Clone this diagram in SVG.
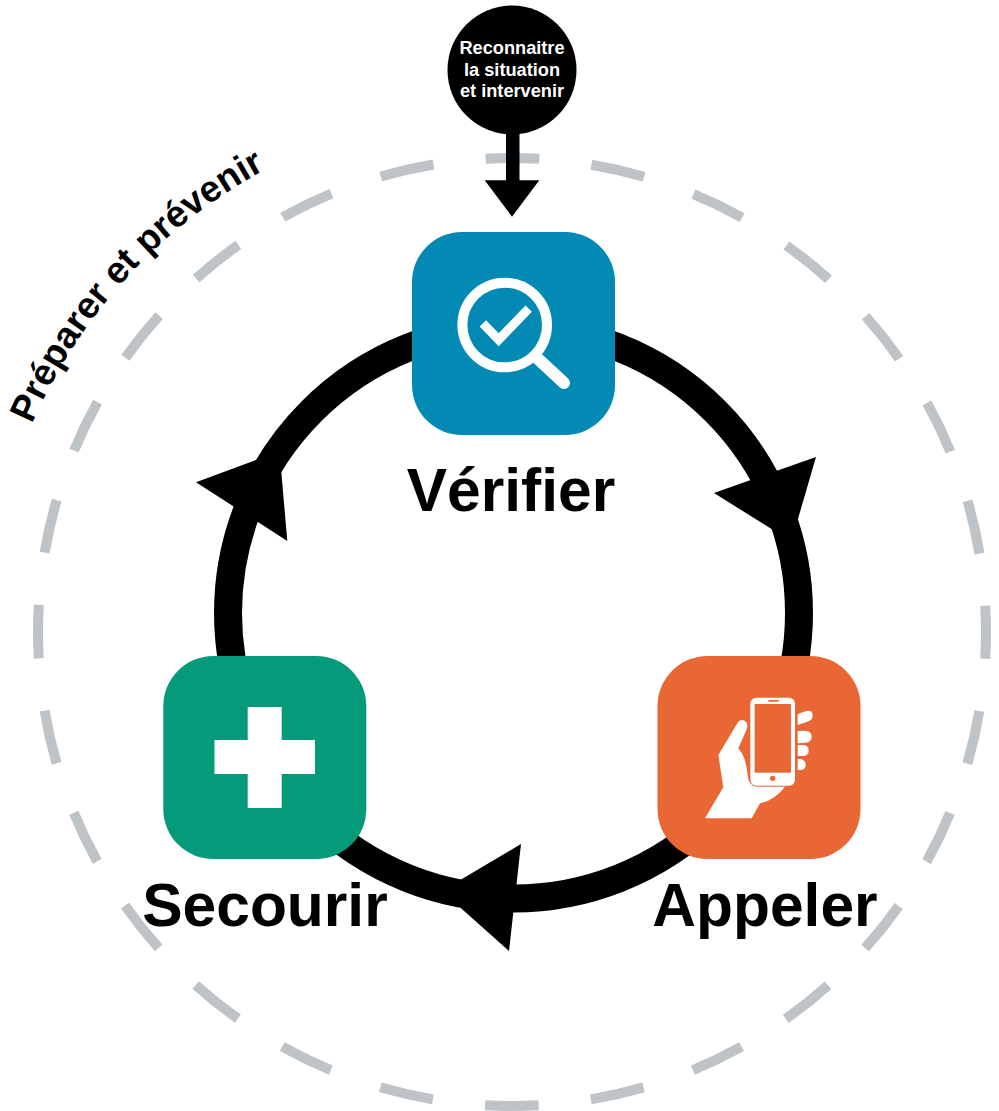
<svg xmlns="http://www.w3.org/2000/svg" width="999" height="1111" viewBox="0 0 999 1111">
<style>
text{font-family:"Liberation Sans",Arial,sans-serif;font-weight:700;fill:#000}
.lbl{font-size:60.5px;text-anchor:middle}
.sm{font-size:18.2px;text-anchor:middle;fill:#fff}
.box{stroke:none}
.w{fill:#fff}
</style>
<defs>
<path id="arcp" d="M32 424A525 525 0 0 1 512 107"/>
</defs>
<rect width="999" height="1111" fill="#fff"/>
<g id="connectors">
<circle id="outer-cycle" cx="512" cy="632" r="474" fill="none" stroke="#bdc3c7" stroke-width="10" stroke-dasharray="54 52.37" stroke-dashoffset="27"/>
<circle id="ring" cx="513.5" cy="613" r="285.5" fill="none" stroke="#000" stroke-width="28"/>
<polygon points="816,457 714,493 791.4,541.5"/>
<polygon points="521,844 509,951 441.7,891"/>
<polygon points="196,482.3 287.3,541 279.5,451.3"/>
<rect x="506" y="130" width="13.500" height="52"/>
<polygon points="484.700,180.300 539.300,180.300 512,216.700"/>
</g>
<g id="start">
<circle cx="512" cy="70" r="64.500"/>
<text class="sm" x="512" y="54">Reconnaitre</text>
<text class="sm" x="512" y="75.500">la situation</text>
<text class="sm" x="512" y="97">et intervenir</text>
</g>
<g id="verifier">
<rect class="box" x="412" y="232" width="203" height="203" rx="50" fill="#028ab5"/>
<circle cx="504.700" cy="325" r="42.300" fill="none" stroke="#fff" stroke-width="10"/>
<line x1="535" y1="356" x2="564" y2="383" stroke="#fff" stroke-width="12" stroke-linecap="round"/>
<polyline points="482.800,323.300 498.700,339.700 528.700,308.700" fill="none" stroke="#fff" stroke-width="9"/>
<text class="lbl" x="511" y="511">Vérifier</text>
</g>
<g id="appeler">
<rect class="box" x="657.500" y="656" width="203" height="203" rx="50" fill="#e96735"/>
<g transform="translate(660 660) scale(.33333)">
<rect x="271" y="113" width="134" height="264" rx="18" class="w"/>
<rect x="284" y="132" width="109" height="206" fill="#e96735"/>
<rect x="325" y="120" width="32" height="5" rx="2" fill="#e96735"/>
<circle cx="338" cy="355" r="8" fill="#e96735"/>
<path class="w" d="M413 163L436 154Q458 148 458 168Q458 180 442 185L413 195Z"/>
<path class="w" d="M413 213L435 212Q455 213 455 230Q455 247 435 248L413 250Z"/>
<path class="w" d="M413 255L430 255Q446 256 446 272Q446 287 430 288L413 288Z"/>
<path class="w" d="M413 297L422 297Q437 300 437 315Q437 328 422 330L413 330Z"/>
<path class="w" d="M135 475L190 382L175 285L232 190Q240 177 251 181Q267 189 260 208L235 265Q258 290 263 345Q265 378 290 380L375 380Q345 420 300 430L275 475Z"/>
</g>
<text class="lbl" x="765" y="926">Appeler</text>
</g>
<g id="secourir">
<rect class="box" x="163.300" y="656" width="203" height="203" rx="50" fill="#059a79"/>
<path class="w" d="M247.700 707H281.700V740H315V774H281.700V808H247.700V774H214.500V740H247.700Z"/>
<text class="lbl" x="265" y="926">Secourir</text>
</g>
<g id="preparer">
<text style="font-size:37px"><textPath href="#arcp">Préparer et prévenir</textPath></text>
</g>
</svg>
